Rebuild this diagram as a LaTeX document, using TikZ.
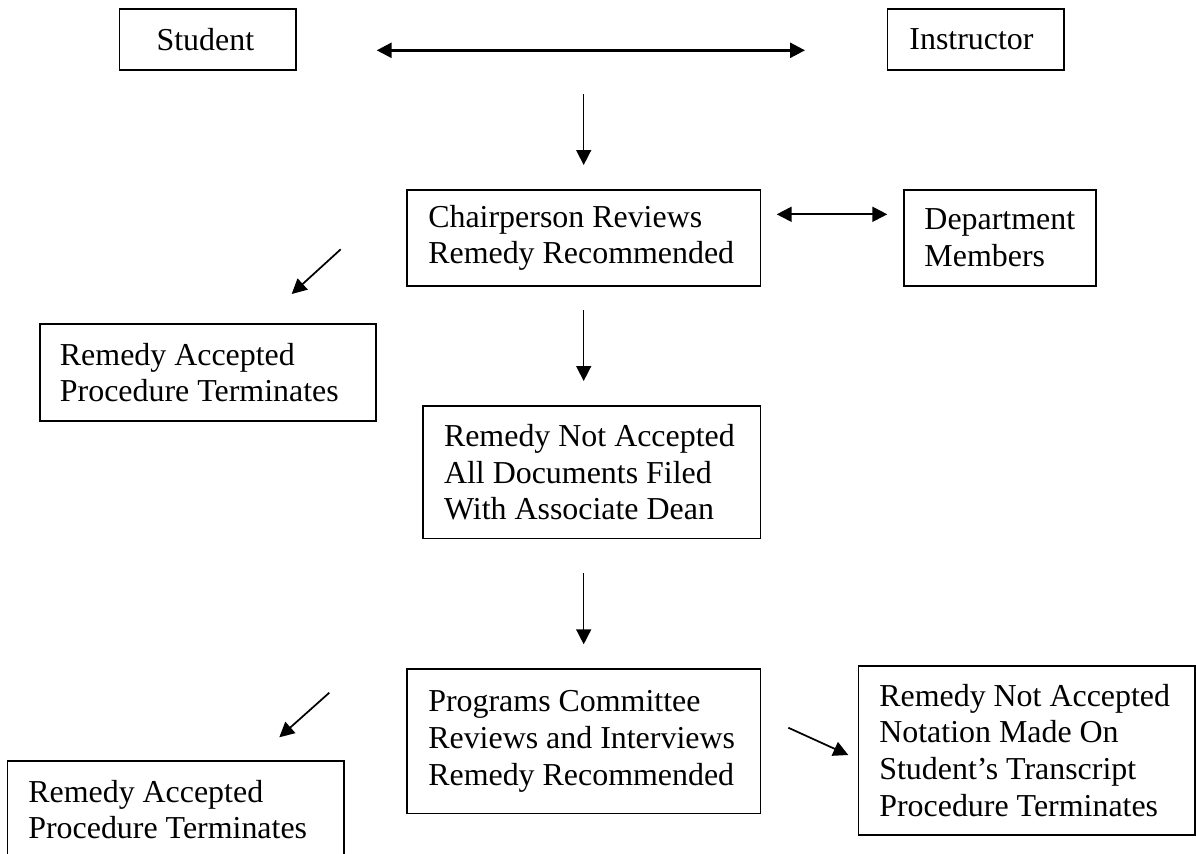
\documentclass[tikz,border=0pt]{standalone}
\usepackage{fontspec}
\setmainfont{Liberation Serif}
\usetikzlibrary{arrows.meta}

\tikzset{
	box/.style={draw, line width=0.6pt, inner xsep=2pt, inner ysep=0pt, font=\fontsize{12pt}{13.8pt}\selectfont,
		execute at begin node={\raggedright\hyphenpenalty=10000\spaceskip=3pt plus 1pt\leftskip=#1}},
	box/.default=6pt,
	arr/.style={-{Triangle[length=5.6pt,width=5.6pt]}, line width=0.55pt},
	darr/.style={{Triangle[length=5.6pt,width=5.6pt]}-{Triangle[length=5.6pt,width=5.6pt]}, line width=0.8pt}
}

\begin{document}
\begin{tikzpicture}[x=0.3759pt,y=-0.3759pt]
					\useasboundingbox (0,0) rectangle (1196,853);
					\clip (0,0) rectangle (1196,853);
					% boxes
					\node[box=12pt, minimum width=66.4pt, minimum height=22.9pt, text width=62.4pt] (student) at (207.7,39.5) {Student};
					\node[box=6.3pt, minimum width=66.5pt, minimum height=22.9pt, text width=62.5pt] (instructor) at (975.8,39.5) {Instructor};
					\node[box=5.9pt, minimum width=132.7pt, minimum height=36.1pt, text width=128.7pt] (chair) at (583.8,238) {Chairperson Reviews\\Remedy Recommended};
					\node[box=5.8pt, minimum width=72.3pt, minimum height=36.1pt, text width=68.3pt] (dept) at (999.9,238) {Department\\Members};
					\node[box=5.6pt, minimum width=126.5pt, minimum height=36.5pt, text width=122.5pt] (accA) at (208,372.5) {Remedy Accepted\\Procedure Terminates};
					\node[box=5.8pt, minimum width=126.7pt, minimum height=49.7pt, text width=122.7pt] (notacc) at (591.8,472.2) {Remedy Not Accepted\\All Documents Filed\\With Associate Dean};
					\node[box=5.9pt, minimum width=132.7pt, minimum height=54.4pt, text width=128.7pt] (progs) at (583.8,741.3) {Programs Committee\\Reviews and Interviews\\Remedy Recommended};
					\node[box=5.9pt, minimum width=126.6pt, minimum height=63.6pt, text width=122.6pt] (notation) at (1026.7,750.3) {Remedy Not Accepted\\Notation Made On\\Student’s Transcript\\Procedure Terminates};
					\node[box=5.9pt, minimum width=126.6pt, minimum height=36.5pt, text width=122.6pt] (accB) at (175.7,809.5) {Remedy Accepted\\Procedure Terminates};
					% arrow ends
					\foreach \n/\x/\y in {a1/376.7/50.3, a2/805/50.3, b1/583.7/94.3, b2/583.7/165, c1/776.7/214.3, c2/887.3/214.3, d1/340.7/249.3, d2/291.7/294, e1/583.7/310, e2/583.7/381, f1/583.7/573.3, f2/583.7/644.3, g1/329.3/692.7, g2/279.3/737.3, h1/788.3/727.7, h2/848.3/755}
						\coordinate (\n) at (\x,\y);
					\draw[darr, line width=1pt] (a1)--(a2);
					\draw[darr, line width=0.75pt] (c1)--(c2);
					\foreach \p in {b,e,f}\draw[arr] (\p1)--(\p2);
					\foreach \p in {d,g,h}\draw[arr, line width=0.65pt] (\p1)--(\p2);
				\end{tikzpicture}
\end{document}
